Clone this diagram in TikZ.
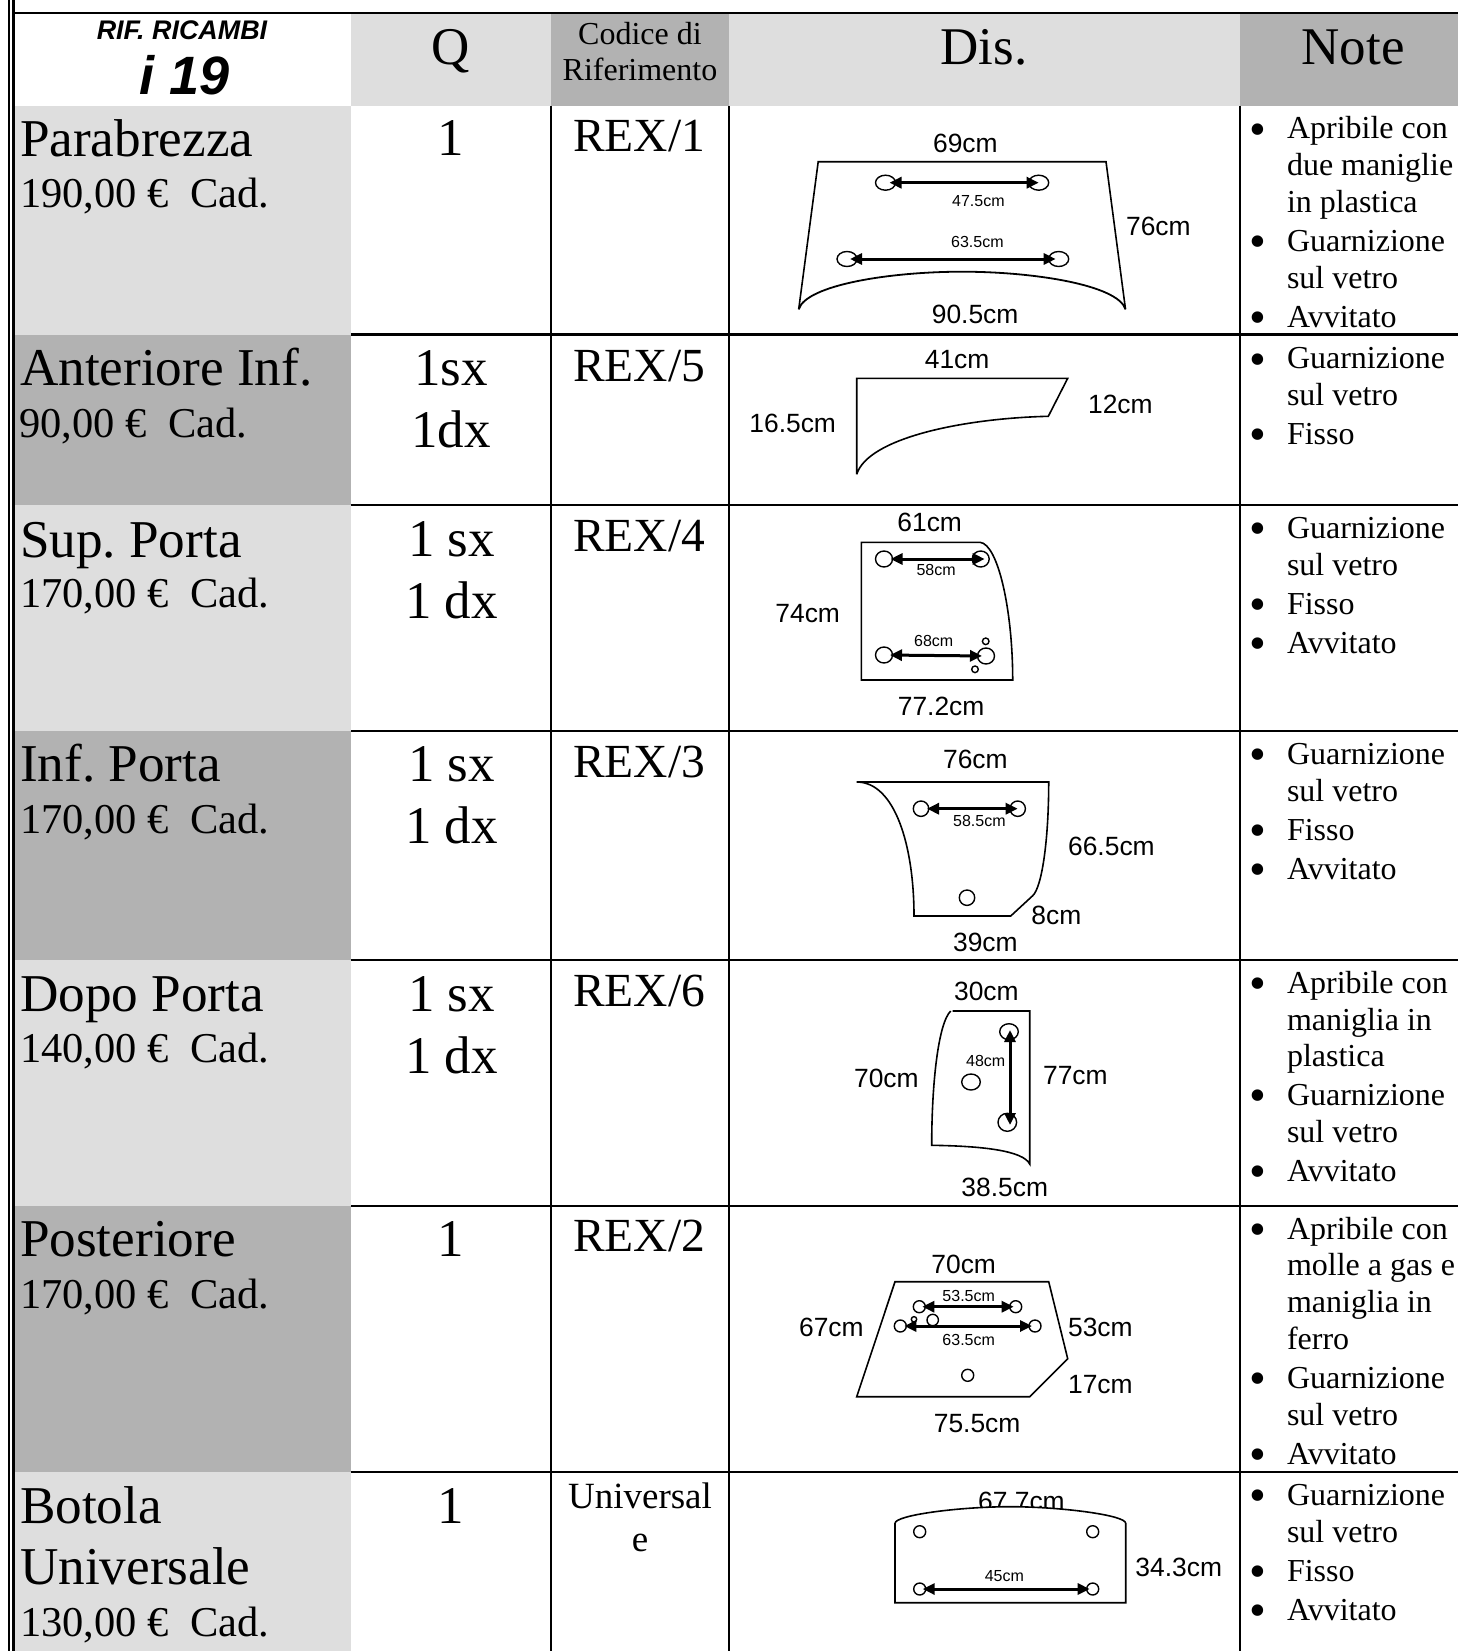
\documentclass[tikz,border=0pt]{standalone}
\usepackage{fontspec}
\setmainfont{Liberation Serif}
\newfontfamily\arialf{Liberation Sans}
\usetikzlibrary{shapes.geometric,arrows.meta}
\definecolor{lightg}{HTML}{DEDEDE}
\definecolor{darkg}{HTML}{B2B2B2}
\tikzset{
  txtc/.style={inner sep=0pt,outer sep=0pt,anchor=base},
  txtw/.style={inner sep=0pt,outer sep=0pt,anchor=base west},
  nametxt/.style={txtw,font=\fontsize{53.2}{53}\selectfont},
  pricetxt/.style={txtw,font=\fontsize{42.5}{42}\selectfont},
  qtytxt/.style={txtc,font=\fontsize{53}{53}\selectfont},
  reftxt/.style={txtc,font=\fontsize{47.5}{47}\selectfont},
  notetxt/.style={txtw,font=\fontsize{32}{32}\selectfont},
  bultxt/.style={txtc,font=\fontsize{48}{48}\selectfont},
  labtxt/.style={txtc,font=\arialf\fontsize{26.4}{26}\selectfont,yshift=-1pt,xshift=0.4pt},
  slabtxt/.style={txtc,font=\arialf\fontsize{16}{16}\selectfont,xshift=0.4pt},
  gridline/.style={line width=2.4pt,black},
  outl/.style={line width=1.6pt,black,line join=miter},
  holeshape/.style={draw,line width=1.4pt,ellipse,inner sep=0pt,outer sep=0pt},
  dimline/.style={line width=3pt,{Triangle[length=12pt,width=11pt]}-{Triangle[length=12pt,width=11pt]}},
}
\newcommand{\holeat}[5]{\node[holeshape,minimum width=#4pt,minimum height=#5pt] (#1) at (#2,#3) {};}
\newcommand{\notes}[3]{\node[notetxt] (#1) at (1287,#2) {#3};}
\newcommand{\bulat}[2]{\node[bultxt] (#1) at ([yshift=-6.5pt]1257.5,#2) {•};}
\begin{document}
\frenchspacing
\begin{tikzpicture}[x=1pt,y=-1pt]
\useasboundingbox (0,0) rectangle (1458,1651);
\fill[white] (0,0) rectangle (1458,1651);
% fills
\fill[lightg] (351,14) rectangle (551,106);
\fill[darkg] (551,14) rectangle (729,106);
\fill[lightg] (729,14) rectangle (1240,106);
\fill[darkg] (1240,14) rectangle (1458,106);
\fill[lightg] (14,106) rectangle (351,334.5);
\fill[darkg] (14,334.5) rectangle (351,505);
\fill[lightg] (14,505) rectangle (351,730.7);
\fill[darkg] (14,730.7) rectangle (351,960);
\fill[lightg] (14,960) rectangle (351,1206);
\fill[darkg] (14,1206) rectangle (351,1471.7);
\fill[lightg] (14,1471.7) rectangle (351,1651);
% grid
\draw[gridline] (9,0) -- (9,1651);
\draw[gridline] (13.3,0) -- (13.3,1651);
\draw[gridline] (14,13) -- (1458,13);
\foreach \yy in {334.5,505,730.7,960,1206,1471.7}{\draw[gridline] (351,\yy) -- (1458,\yy);}
\foreach \xx in {551,729,1240}{\draw[gridline] (\xx,106) -- (\xx,1651);}
% header
\node[txtc,font=\arialf\bfseries\itshape\fontsize{26.9}{26.9}\selectfont] (hrif) at (182,40) {RIF. RICAMBI};
\node[txtc,font=\arialf\bfseries\itshape\fontsize{54}{54}\selectfont] (hi) at (185,95) {i 19};
\node[qtytxt] (hq) at (451,65) {Q};
\node[txtc,font=\fontsize{32}{32}\selectfont] (hc1) at (640,44.5) {Codice di};
\node[txtc,font=\fontsize{32}{32}\selectfont] (hc2) at (640,80.5) {Riferimento};
\node[qtytxt] (hd) at (984,64.5) {Dis.};
\node[qtytxt] (hn) at (1353,64.5) {Note};
% names
\node[nametxt] (n1) at (20,156.5) {Parabrezza};
\node[pricetxt] (p1) at (20,207.5) {190,00 €\ \ Cad.};
\node[nametxt] (n2) at (20,385) {Anteriore Inf.};
\node[pricetxt] (p2) at (19.5,437) {90,00 €\ \ Cad.};
\node[nametxt] (n3) at (20,557) {Sup. Porta};
\node[pricetxt] (p3) at (20,607) {170,00 €\ \ Cad.};
\node[nametxt] (n4) at (20,781) {Inf. Porta};
\node[pricetxt] (p4) at (20,833) {170,00 €\ \ Cad.};
\node[nametxt] (n5) at (20,1011) {Dopo Porta};
\node[pricetxt] (p5) at (20,1062) {140,00 €\ \ Cad.};
\node[nametxt] (n6) at (20,1256) {Posteriore};
\node[pricetxt] (p6) at (20,1308) {170,00 €\ \ Cad.};
\node[nametxt] (n7) at (20,1523) {Botola};
\node[nametxt] (n7b) at (20,1584) {Universale};
\node[pricetxt] (p7) at (20,1636) {130,00 €\ \ Cad.};
% quantities
\node[qtytxt] (q1) at (451,155.5) {1};
\node[qtytxt] (q2a) at (451,385) {1sx};
\node[qtytxt] (q2b) at (451,447) {1dx};
\node[qtytxt] (q3a) at (451.5,556) {1 sx};
\node[qtytxt] (q3b) at (451.5,618) {1 dx};
\node[qtytxt] (q4a) at (451.5,781) {1 sx};
\node[qtytxt] (q4b) at (451.5,843) {1 dx};
\node[qtytxt] (q5a) at (451.5,1011) {1 sx};
\node[qtytxt] (q5b) at (451.5,1073) {1 dx};
\node[qtytxt] (q6) at (451,1256) {1};
\node[qtytxt] (q7) at (451,1523) {1};
% refs
\node[reftxt] (r1) at (639,151.5) {REX/1};
\node[reftxt] (r2) at (639,381.5) {REX/5};
\node[reftxt] (r3) at (639,551) {REX/4};
\node[reftxt] (r4) at (639,777) {REX/3};
\node[reftxt] (r5) at (639,1006.5) {REX/6};
\node[reftxt] (r6) at (639,1251.5) {REX/2};
\node[txtc,font=\fontsize{37}{37}\selectfont] (r7a) at (640,1508) {Universal};
\node[txtc,font=\fontsize{37}{37}\selectfont] (r7b) at (640,1551) {e};
% notes
\bulat{b11}{139}\notes{t11}{139}{Apribile con}
\notes{t12}{175.5}{due maniglie}
\notes{t13}{212.5}{in plastica}
\bulat{b14}{251}\notes{t14}{251}{Guarnizione}
\notes{t15}{288.5}{sul vetro}
\bulat{b16}{327}\notes{t16}{327}{Avvitato}
\bulat{b21}{368.5}\notes{t21}{368.5}{Guarnizione}
\notes{t22}{405.5}{sul vetro}
\bulat{b23}{444}\notes{t23}{444}{Fisso}
\bulat{b31}{538}\notes{t31}{538}{Guarnizione}
\notes{t32}{575}{sul vetro}
\bulat{b33}{614}\notes{t33}{614}{Fisso}
\bulat{b34}{653}\notes{t34}{653}{Avvitato}
\bulat{b41}{764}\notes{t41}{764}{Guarnizione}
\notes{t42}{801}{sul vetro}
\bulat{b43}{840}\notes{t43}{840}{Fisso}
\bulat{b44}{879}\notes{t44}{879}{Avvitato}
\bulat{b51}{993}\notes{t51}{993}{Apribile con}
\notes{t52}{1030.5}{maniglia in}
\notes{t53}{1066.5}{plastica}
\bulat{b54}{1105}\notes{t54}{1105}{Guarnizione}
\notes{t55}{1142}{sul vetro}
\bulat{b56}{1181}\notes{t56}{1181}{Avvitato}
\bulat{b61}{1239}\notes{t61}{1239}{Apribile con}
\notes{t62}{1275.5}{molle a gas e}
\notes{t63}{1312}{maniglia in}
\notes{t64}{1349}{ferro}
\bulat{b65}{1388}\notes{t65}{1388}{Guarnizione}
\notes{t66}{1425}{sul vetro}
\bulat{b67}{1464}\notes{t67}{1464}{Avvitato}
\bulat{b71}{1505}\notes{t71}{1505}{Guarnizione}
\notes{t72}{1542}{sul vetro}
\bulat{b73}{1581}\notes{t73}{1581}{Fisso}
\bulat{b74}{1620}\notes{t74}{1620}{Avvitato}
% drawing 1
\draw[outl] (798.7,309.3) -- (818.2,161.7) -- (1106,161.7) -- (1125.5,309.3);
\draw[outl,line width=1.8pt] (798.7,309.3) .. controls (806,285) and (890,271.7) .. (962,271.7) .. controls (1034,271.7) and (1118,285) .. (1125.5,309.3);
\holeat{a1}{885.5}{182.7}{20}{15}\holeat{a2}{1038.7}{182.7}{20}{15}
\holeat{a3}{847}{259}{20}{15}\holeat{a4}{1058.7}{259}{20}{15}
\draw[dimline,shorten <=4pt] (a1.center) -- (a2.center);
\draw[dimline,shorten <=3pt,shorten >=3pt] (a3.center) -- (a4.center);
\node[labtxt] (l11) at (965,151.7) {69cm};
\node[labtxt] (l12) at (1158,234) {76cm};
\node[labtxt] (l13) at (974.7,322) {90.5cm};
\node[slabtxt] (l14) at (978,206) {47.5cm};
\node[slabtxt] (l15) at (977,247) {63.5cm};
% drawing 2
\draw[outl] (856.7,474.3) -- (856.7,378.3) -- (1067.7,378.3) -- (1048.3,416.3) .. controls (963.3,418.3) and (868,438) .. (856.7,474.3);
\node[labtxt] (l21) at (956.7,367.3) {41cm};
\node[labtxt] (l22) at (1120,412.7) {12cm};
\node[labtxt] (l23) at (792.3,431.7) {16.5cm};
% drawing 3
\draw[outl] (861.3,680) -- (861.3,542.3) -- (980,542.3) .. controls (998,544) and (1012.7,610) .. (1012.7,680) -- cycle;
\holeat{c1}{884}{559}{17}{16}\holeat{c2}{980.7}{559}{17}{16}
\holeat{c3}{884}{655}{17}{16}\holeat{c4}{986}{656}{17}{16}
\holeat{c5}{985.7}{641.3}{6.6}{6.6}\holeat{c6}{975}{669.3}{6.6}{6.6}
\draw[dimline,shorten <=6.5pt,shorten >=-4pt] (c1.center) -- (c2.center);
\draw[dimline,shorten <=6pt,shorten >=4pt] (c3.center) -- (c4.center);
\node[labtxt] (l31) at (929.3,530) {61cm};
\node[labtxt] (l32) at (807.3,621) {74cm};
\node[labtxt] (l33) at (940.7,714) {77.2cm};
\node[slabtxt] (l34) at (935.7,575) {58cm};
\node[slabtxt] (l35) at (933.3,646.7) {68cm};
% drawing 4
\draw[outl] (856.7,782) -- (1048.7,782) .. controls (1048.7,840) and (1042,887) .. (1032.7,895.7) -- (1010.7,916) -- (914,916) .. controls (914,846) and (895,782) .. (856.7,782) -- cycle;
\holeat{d1}{921}{808.7}{15.4}{15.4}\holeat{d2}{1017.7}{808.7}{15.4}{15.4}\holeat{d3}{967}{897.7}{15.4}{15.4}
\draw[dimline,shorten <=6pt] (d1.center) -- (d2.center);
\node[labtxt] (l41) at (975,767.7) {76cm};
\node[labtxt] (l42) at (1111,854.3) {66.5cm};
\node[labtxt] (l43) at (1056,923.3) {8cm};
\node[labtxt] (l44) at (985,950) {39cm};
\node[slabtxt] (l45) at (979,826) {58.5cm};
% drawing 5
\draw[outl] (952.7,1011) -- (1029.7,1011) -- (1029.7,1164) .. controls (1023,1150.7) and (983,1146) .. (931.7,1145.3) .. controls (931.7,1083) and (938.3,1023) .. (950.7,1011);
\holeat{e1}{1009}{1031.7}{18.6}{16}\holeat{e2}{971}{1082}{18.6}{16}\holeat{e3}{1007.3}{1122.3}{18.6}{18}
\coordinate (e1b) at (1010,1030);
\coordinate (e3b) at (1010,1125);
\draw[dimline] (e1b) -- (e3b);
\node[labtxt] (l51) at (986,999.3) {30cm};
\node[labtxt] (l52) at (886,1086.7) {70cm};
\node[labtxt] (l53) at (1075,1083.3) {77cm};
\node[labtxt] (l54) at (1004.3,1195) {38.5cm};
\node[slabtxt] (l55) at (985.3,1066) {48cm};
% drawing 6
\draw[outl] (895,1281.7) -- (1048.7,1281.7) -- (1067.7,1358.7) -- (1029.7,1396.7) -- (856.7,1396.7) -- cycle;
\holeat{f1}{919.3}{1306.7}{12}{12}\holeat{f2}{1015.7}{1306.7}{12}{12}
\holeat{f3}{900.3}{1326}{12}{12}\holeat{f4}{1035}{1326}{12}{12}
\holeat{f5}{932.7}{1320}{11.4}{11.4}\holeat{f6}{914}{1319.3}{5.4}{5.4}
\holeat{f7}{967.7}{1375.3}{12}{12}
\draw[dimline,shorten <=3pt,shorten >=2pt] (f1.center) -- (f2.center);
\draw[dimline,shorten <=4pt,shorten >=3pt] (f3.center) -- (f4.center);
\node[labtxt] (l61) at (963.3,1272.7) {70cm};
\node[labtxt] (l62) at (831,1335) {67cm};
\node[labtxt] (l63) at (1100,1335) {53cm};
\node[labtxt] (l64) at (1100,1392.7) {17cm};
\node[labtxt] (l65) at (976.7,1431.7) {75.5cm};
\node[slabtxt] (l66) at (968.3,1301) {53.5cm};
\node[slabtxt] (l67) at (968.3,1345) {63.5cm};
% drawing 7
\node[labtxt] (l71) at (1021,1509) {67.7cm};
\draw[outl,fill=white] (895,1602.7) -- (895,1523.3) .. controls (895,1515) and (960,1506.7) .. (1010.3,1506.7) .. controls (1060,1506.7) and (1125.7,1515) .. (1125.7,1523.3) -- (1125.7,1602.7) -- cycle;
\holeat{g1}{919.7}{1531.7}{12}{12}\holeat{g2}{1092.7}{1531.7}{12}{12}
\holeat{g3}{919.7}{1589}{12}{12}\holeat{g4}{1092.7}{1589}{12}{12}
\draw[dimline,shorten <=3pt,shorten >=3pt] (g3.center) -- (g4.center);
\node[labtxt] (l72) at (1178.3,1575.7) {34.3cm};
\node[slabtxt] (l73) at (1004,1581.7) {45cm};
\end{tikzpicture}
\end{document}
